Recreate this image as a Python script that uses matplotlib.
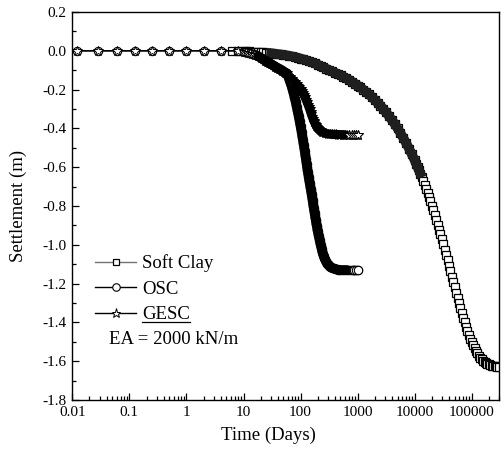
import numpy as np
import matplotlib
matplotlib.use("Agg")
import matplotlib.pyplot as plt
from matplotlib.ticker import FixedLocator, LogLocator, NullFormatter, FuncFormatter, MultipleLocator
from matplotlib.lines import Line2D

plt.rcParams['font.family'] = ['Liberation Serif', 'DejaVu Serif']
plt.rcParams['axes.unicode_minus'] = False

# ---- data (time in days, settlement in m) ----
soft_t = [6.2, 8, 10, 11.2, 12.6, 14.1, 15.8, 17.8, 20, 22.4, 25.1, 28.2, 31.6, 35.5,
          39.8, 44.7, 50.1, 56.2, 63.1, 70.8, 79.4, 89.1, 100, 112, 126, 141, 158, 178,
          200, 224, 251, 282, 316, 355, 398, 447, 501, 562, 631, 708, 794, 891, 1000,
          1122, 1259, 1413, 1585, 1778, 1995, 2239, 2512, 2818, 3162, 3548, 3981, 4467,
          5012, 5623, 6310, 7079, 7943, 8913,
          10000, 10593, 11220, 11885, 12589, 13335, 14125, 14962, 15849, 16788, 17783,
          18836, 19953, 21135, 22387, 23714, 25119, 26607, 28184, 29854, 31623, 33497,
          35481, 37584, 39811, 42170, 44668, 47315, 50119, 53088, 56234, 59566, 63096,
          66834, 70795, 74989, 79433, 84140, 89125, 94406, 100000, 105925, 112202,
          118850, 125893, 133352, 141254, 149624, 158489, 167880, 177828, 188365,
          199526, 211349, 223872, 237137, 251189, 266073, 281838, 298538]
soft_s = [0.0, 0.0, -0.001, -0.002, -0.003, -0.004, -0.005, -0.006, -0.007, -0.008,
          -0.010, -0.011, -0.013, -0.015, -0.017, -0.019, -0.021, -0.023, -0.026, -0.029,
          -0.032, -0.036, -0.040, -0.044, -0.049, -0.054, -0.059, -0.065, -0.071, -0.078,
          -0.085, -0.092, -0.099, -0.106, -0.113, -0.119, -0.127, -0.134, -0.142, -0.150,
          -0.159, -0.169, -0.179, -0.189, -0.201, -0.213, -0.225, -0.238, -0.253, -0.268,
          -0.283, -0.300, -0.318, -0.337, -0.357, -0.378, -0.400, -0.424, -0.449, -0.476,
          -0.504, -0.534,
          -0.565, -0.582, -0.599, -0.616, -0.634, -0.653, -0.672, -0.692, -0.712, -0.733,
          -0.754, -0.776, -0.799, -0.822, -0.846, -0.871, -0.896, -0.922, -0.945, -0.971,
          -0.998, -1.025, -1.052, -1.080, -1.108, -1.136, -1.164, -1.192, -1.219, -1.247,
          -1.274, -1.300, -1.327, -1.352, -1.376, -1.400, -1.423, -1.444, -1.465, -1.484,
          -1.502, -1.518, -1.533, -1.547, -1.560, -1.571, -1.581, -1.590, -1.597, -1.604,
          -1.609, -1.614, -1.617, -1.620, -1.623, -1.625, -1.626, -1.627, -1.628, -1.629]

# early part shared by OSC and GESC
early_t = [0.012, 0.028, 0.06, 0.125, 0.25, 0.5, 1, 2, 4, 8, 10, 11, 12, 13, 14, 15, 16,
           18, 20, 22, 24, 26, 28, 30, 33, 36, 39, 42, 45, 48, 51, 54, 57]
early_s = [0, 0, 0, 0, 0, 0, 0, 0, 0, 0, -0.004, -0.007, -0.010, -0.013, -0.016, -0.018,
           -0.020, -0.028, -0.036, -0.043, -0.050, -0.056, -0.062, -0.067, -0.075, -0.081,
           -0.087, -0.092, -0.097, -0.102, -0.107, -0.112, -0.117]

osc_t = [60, 62, 64, 66, 68, 70, 72, 74, 76, 78, 80, 82, 84, 86, 88, 90, 92, 94, 96, 98,
         100, 102, 104, 106, 108, 110, 112, 114, 116, 118, 120, 122, 124, 126, 128, 130,
         132, 134, 136, 138, 140, 142, 144, 146, 148, 150, 152, 154, 156, 158, 160, 162,
         164, 166, 168, 170, 172, 174, 176, 178, 180, 182, 184, 186, 188, 190, 192, 194,
         196, 198, 200, 203, 206, 209, 212, 215, 218, 221, 224, 227, 230, 234, 238, 242,
         246, 250, 255, 260, 265, 270, 276, 282, 288, 294, 300, 310, 320, 330, 345, 360,
         380, 400, 425, 450, 480, 520, 560, 600, 650, 700, 760, 820, 880, 940, 1000]
osc_s = [-0.130, -0.141, -0.152, -0.163, -0.174, -0.185, -0.198, -0.211, -0.224, -0.237,
         -0.250, -0.264, -0.278, -0.292, -0.306, -0.320, -0.334, -0.348, -0.362, -0.376,
         -0.390, -0.404, -0.418, -0.432, -0.446, -0.460, -0.474, -0.488, -0.502, -0.516,
         -0.530, -0.544, -0.558, -0.572, -0.586, -0.600, -0.612, -0.624, -0.636, -0.648,
         -0.660, -0.670, -0.680, -0.690, -0.700, -0.710, -0.720, -0.730, -0.740, -0.750,
         -0.760, -0.770, -0.780, -0.790, -0.800, -0.810, -0.819, -0.828, -0.837, -0.846,
         -0.855, -0.863, -0.871, -0.879, -0.887, -0.895, -0.902, -0.909, -0.916, -0.923,
         -0.930, -0.939, -0.948, -0.957, -0.966, -0.975, -0.983, -0.991, -0.999, -1.006,
         -1.013, -1.022, -1.030, -1.038, -1.045, -1.052, -1.059, -1.066, -1.072, -1.077,
         -1.083, -1.088, -1.093, -1.097, -1.100, -1.105, -1.109, -1.112, -1.116, -1.119,
         -1.122, -1.124, -1.126, -1.128, -1.129, -1.130, -1.130, -1.130, -1.130, -1.130,
         -1.130, -1.130, -1.130, -1.130, -1.130]

gesc_t = [60, 65, 70, 75, 80, 85, 90, 95, 100, 105, 110, 115, 120, 125, 130, 135, 140,
          145, 150, 155, 160, 165, 170, 175, 180, 185, 190, 195, 200, 210, 220, 230, 240,
          250, 265, 280, 300, 325, 350, 380, 420, 460, 500, 550, 600, 660, 720, 790, 860,
          930, 1000]
gesc_s = [-0.128, -0.136, -0.145, -0.154, -0.163, -0.171, -0.180, -0.189, -0.198, -0.207,
          -0.217, -0.228, -0.240, -0.252, -0.265, -0.277, -0.290, -0.302, -0.315, -0.328,
          -0.340, -0.350, -0.360, -0.368, -0.376, -0.383, -0.389, -0.394, -0.398, -0.405,
          -0.410, -0.415, -0.418, -0.421, -0.424, -0.426, -0.428, -0.429, -0.430, -0.431,
          -0.431, -0.432, -0.432, -0.432, -0.433, -0.433, -0.433, -0.433, -0.433, -0.433,
          -0.433]

labels = ['Soft Clay', 'OSC', 'GESC']
x_ticks = [0.01, 0.1, 1, 10, 100, 1000, 10000, 100000]

osc_all_t, osc_all_s = early_t + osc_t, early_s + osc_s
gesc_all_t, gesc_all_s = early_t + gesc_t, early_s + gesc_s


def dense_part(t, s, lo, hi):
    # the stretch where the solver output is so dense that the markers merge
    pairs = [(a, b) for a, b in zip(t, s) if lo <= a <= hi]
    return [p[0] for p in pairs], [p[1] for p in pairs]


def tail_part(t, s, lo):
    pairs = [(a, b) for a, b in zip(t, s) if a > lo]
    return [p[0] for p in pairs], [p[1] for p in pairs]


fig = plt.figure(figsize=(5.04, 4.58), dpi=100)
ax = fig.add_axes([72.3 / 504, 58 / 458, 426.7 / 504, 388 / 458])

# Soft clay
ax.plot(soft_t, soft_s, color='0.45', lw=1.0, marker='s', ms=5.4, mfc='white',
        mec='black', mew=0.9, label=labels[0], zorder=2)
bt, bs = dense_part(soft_t, soft_s, 25, 14000)
ax.plot(bt, bs, color='0.12', lw=7.0, solid_capstyle='butt', zorder=2.1)

# OSC
ax.plot(osc_all_t, osc_all_s, color='black', lw=1.0, marker='o', ms=6, mfc='white',
        mec='black', mew=0.8, label=labels[1], zorder=3)
bt, bs = dense_part(osc_all_t, osc_all_s, 17, 650)
ax.plot(bt, bs, color='black', lw=7.0, solid_capstyle='round', solid_joinstyle='round',
        zorder=3.1)
tt, ts = tail_part(osc_all_t, osc_all_s, 800)
ax.plot(tt, ts, ls='none', marker='o', ms=6, mfc='white', mec='black', mew=0.8, zorder=3.2)

# GESC
ax.plot(gesc_all_t, gesc_all_s, color='black', lw=1.0, marker='*', ms=7.5, mfc='white',
        mec='black', mew=0.7, label=labels[2], zorder=4)
bt, bs = dense_part(gesc_all_t, gesc_all_s, 17, 600)
ax.plot(bt, bs, color='black', lw=6.5, solid_capstyle='round', solid_joinstyle='round',
        zorder=4.1)
tt, ts = tail_part(gesc_all_t, gesc_all_s, 700)
ax.plot(tt, ts, ls='none', marker='*', ms=7.5, mfc='white', mec='black', mew=0.7, zorder=4.2)

ax.set_xscale('log')
ax.set_xlim(0.01, 300000)
ax.set_ylim(-1.8, 0.2)
ax.xaxis.set_major_locator(FixedLocator(x_ticks))
ax.xaxis.set_minor_locator(LogLocator(base=10, subs=np.arange(2, 10), numticks=20))
ax.xaxis.set_minor_formatter(NullFormatter())
ax.xaxis.set_major_formatter(FuncFormatter(lambda v, p: '%g' % v))
ax.yaxis.set_major_locator(MultipleLocator(0.2))
ax.yaxis.set_minor_locator(MultipleLocator(0.1))
ax.yaxis.set_major_formatter(FuncFormatter(lambda v, p: '%.1f' % v))

ax.tick_params(which='both', direction='in', top=False, right=False, labelsize=11)
ax.tick_params(which='major', length=5, width=0.9, pad=4)
ax.tick_params(which='minor', length=3, width=0.9)
for sp in ax.spines.values():
    sp.set_linewidth(1.0)

ax.set_xlabel('Time (Days)', fontsize=13.5)
ax.set_ylabel('Settlement (m)', fontsize=13.5)
ax.xaxis.set_label_coords(0.459, -0.068)
ax.yaxis.set_label_coords(-0.105, 0.5)

leg = ax.legend(loc='upper left', bbox_to_anchor=(0.053, 0.375), frameon=False,
                fontsize=13.5, handlelength=2.2, handletextpad=0.3, labelspacing=0.44,
                borderpad=0, borderaxespad=0, markerscale=0.9)
ax.text(0.087, 0.155, 'EA = 2000 kN/m', transform=ax.transAxes, fontsize=13.5,
        va='center', ha='left')

# underline the GESC label
fig.canvas.draw()
bb = leg.get_texts()[2].get_window_extent()
inv = fig.transFigure.inverted()
(x0, y0), (x1, _) = inv.transform([(bb.x0, bb.y0 + 1), (bb.x1, bb.y0 + 1)])
fig.add_artist(Line2D([x0, x1], [y0, y0], color='black', lw=0.9, transform=fig.transFigure))

fig.savefig('out.png', dpi=100)
